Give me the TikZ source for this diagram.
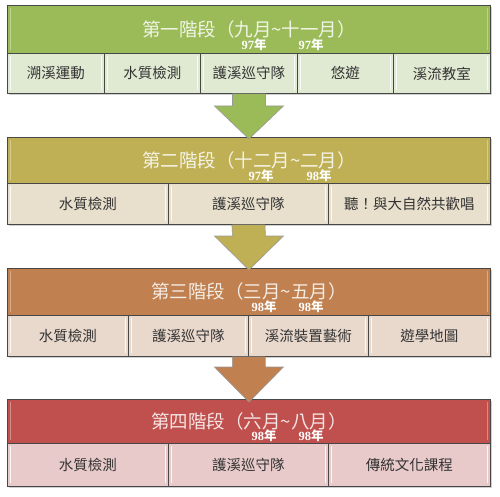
\documentclass[tikz,border=0pt]{standalone}
\usepackage{fontspec}
\setmainfont{Liberation Serif}
\newfontfamily\cjk{Noto Sans CJK TC}
\usetikzlibrary{calc,shadows}
\definecolor{hA}{HTML}{9BBB59}
\definecolor{cA}{HTML}{E0E9D2}
\definecolor{hB}{HTML}{BFB055}
\definecolor{cB}{HTML}{E8E0CC}
\definecolor{hC}{HTML}{C0804F}
\definecolor{cC}{HTML}{E9D8CC}
\definecolor{hD}{HTML}{C0504D}
\definecolor{cD}{HTML}{E9CACA}
\newcommand{\tld}{\textasciitilde}
\begin{document}
\begin{tikzpicture}[x=1pt,y=-1pt,
  box/.style={draw=black!72, line width=0.9pt, rectangle, inner sep=0pt, anchor=north west,
    drop shadow={shadow xshift=1.2pt,shadow yshift=-1.2pt,opacity=0.3,fill=black!60}},
  bevel/.style={path picture={
    \draw[white,opacity=#1,line width=1.6pt]
      ([xshift=3pt,yshift=-3pt]path picture bounding box.north west) --
      ([xshift=3pt,yshift=3pt]path picture bounding box.south west);
    \draw[white,opacity=#1,line width=1.6pt]
      ([xshift=-3pt,yshift=-3pt]path picture bounding box.north east) --
      ([xshift=-3pt,yshift=3pt]path picture bounding box.south east);}},
  hdr/.style={box, fill=#1, minimum width=483pt, bevel=0.35,
    font=\cjk\fontsize{18.5}{20}\selectfont, text=white, text opacity=0.85},
  cell/.style={box, fill=#1, bevel=0.85,
    font=\cjk\fontsize{14.5}{16}\selectfont, text=black!80},
  yr/.style={font=\fontsize{12.5}{13}\selectfont\bfseries, text=white, inner sep=0pt},
  arr/.style={draw=black!40, line width=0.6pt, fill=#1}
]
\useasboundingbox[fill=white] (0,0) rectangle (500,497);

% Stage 1
\node[hdr=hA, minimum height=48pt] (h1) at (7,5) {第一階段（九月\tld 十一月）};
\node[cell=cA, minimum width=97pt, minimum height=40pt] (s1c1) at (7,53) {溯溪運動};
\node[cell=cA, minimum width=96pt, minimum height=40pt] (s1c2) at (104,53) {水質檢測};
\node[cell=cA, minimum width=97pt, minimum height=40pt] (s1c3) at (200,53) {護溪巡守隊};
\node[cell=cA, minimum width=96pt, minimum height=40pt] (s1c4) at (297,53) {悠遊};
\node[cell=cA, minimum width=97pt, minimum height=40pt] (s1c5) at (393,53) {溪流教室};
\node[yr] (y1a) at (254,45) {97{\cjk 年}};
\node[yr] (y1b) at (311,45) {97{\cjk 年}};

% Stage 2
\node[hdr=hB, minimum height=46pt] (h2) at (7,137) {第二階段（十二月\tld 二月）};
\node[cell=cB, minimum width=161pt, minimum height=41pt] (s2c1) at (7,183) {水質檢測};
\node[cell=cB, minimum width=160pt, minimum height=41pt] (s2c2) at (168,183) {護溪巡守隊};
\node[cell=cB, minimum width=162pt, minimum height=41pt] (s2c3) at (328,183) {聽！與大自然共歡唱};
\node[yr] (y2a) at (261,176) {97{\cjk 年}};
\node[yr] (y2b) at (319,176) {98{\cjk 年}};

% Stage 3
\node[hdr=hC, minimum height=47pt] (h3) at (7,268) {第三階段（三月\tld 五月）};
\node[cell=cC, minimum width=121pt, minimum height=41pt] (s3c1) at (7,315) {水質檢測};
\node[cell=cC, minimum width=120pt, minimum height=41pt] (s3c2) at (128,315) {護溪巡守隊};
\node[cell=cC, minimum width=120pt, minimum height=41pt] (s3c3) at (248,315) {溪流裝置藝術};
\node[cell=cC, minimum width=122pt, minimum height=41pt] (s3c4) at (368,315) {遊學地圖};
\node[yr] (y3a) at (264,307) {98{\cjk 年}};
\node[yr] (y3b) at (311,307) {98{\cjk 年}};

% Stage 4
\node[hdr=hD, minimum height=44pt] (h4) at (7,399) {第四階段（六月\tld 八月）};
\node[cell=cD, minimum width=161pt, minimum height=43pt] (s4c1) at (7,443) {水質檢測};
\node[cell=cD, minimum width=160pt, minimum height=43pt] (s4c2) at (168,443) {護溪巡守隊};
\node[cell=cD, minimum width=162pt, minimum height=43pt] (s4c3) at (328,443) {傳統文化課程};
\node[yr] (y4a) at (264,436) {98{\cjk 年}};
\node[yr] (y4b) at (311,436) {98{\cjk 年}};

% Arrows
\draw[arr=hA] ($(s1c3.south)+(-16.5,0)$) -- ($(s1c3.south)+(16.5,0)$)
  -- ($(h2.north)+(16.5,-31)$) -- ($(h2.north)+(34.5,-31)$) -- ($(h2.north)+(0,2)$)
  -- ($(h2.north)+(-34.5,-31)$) -- ($(h2.north)+(-16.5,-31)$) -- cycle;
\draw[arr=hB] ($(s2c2.south)+(-16.5,0)$) -- ($(s2c2.south)+(16.5,0)$)
  -- ($(h3.north)+(16.5,-32)$) -- ($(h3.north)+(34.5,-32)$) -- ($(h3.north)+(0,2)$)
  -- ($(h3.north)+(-34.5,-32)$) -- ($(h3.north)+(-16.5,-32)$) -- cycle;
\draw[arr=hC] ($(s3c2.south east)+(-16.5,0)$) -- ($(s3c2.south east)+(16.5,0)$)
  -- ($(h4.north)+(16.5,-32)$) -- ($(h4.north)+(34.5,-32)$) -- ($(h4.north)+(0,3)$)
  -- ($(h4.north)+(-34.5,-32)$) -- ($(h4.north)+(-16.5,-32)$) -- cycle;
\end{tikzpicture}
\end{document}
